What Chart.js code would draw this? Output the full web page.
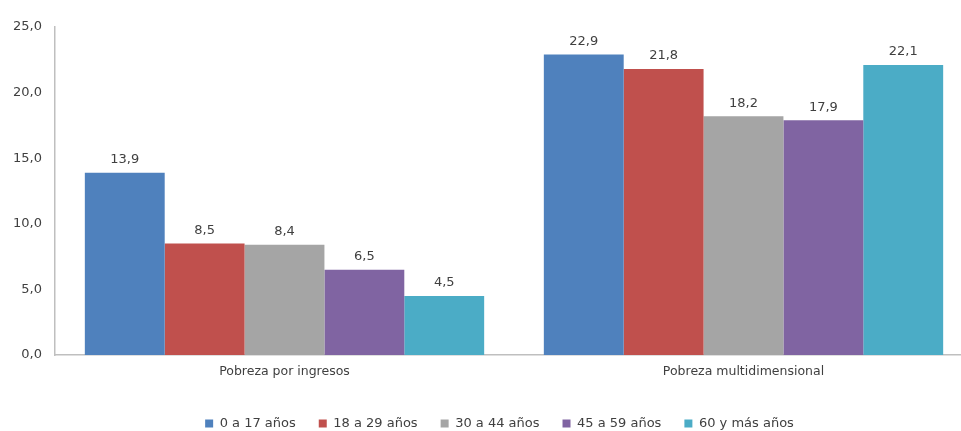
<!DOCTYPE html>
<html>
<head>
<meta charset="utf-8">
<script src="https://cdn.jsdelivr.net/npm/chart.js@4"></script>
<style>
  html, body { margin: 0; padding: 0; overflow: hidden; background: #ffffff; }
  #wrap { width: 975px; height: 431px; }
</style>
</head>
<body>
<div id="wrap"><canvas id="chart" width="975" height="431"></canvas></div>
<script>
// Pobreza por ingresos y multidimensional, por tramo de edad (%)
const categories = ['Pobreza por ingresos', 'Pobreza multidimensional'];
const seriesNames = ['0 a 17 años', '18 a 29 años', '30 a 44 años', '45 a 59 años', '60 y más años'];
const edad0a17 = [13.9, 22.9];
const edad18a29 = [8.5, 21.8];
const edad30a44 = [8.4, 18.2];
const edad45a59 = [6.5, 17.9];
const edad60mas = [4.5, 22.1];
const yTicks = [0, 5, 10, 15, 20, 25];

const colors = ['#4F81BD', '#C0504D', '#A5A5A5', '#8064A2', '#4BACC6'];
const seriesValues = [edad0a17, edad18a29, edad30a44, edad45a59, edad60mas];

const FONT = "'DejaVu Sans', Verdana, sans-serif";
const TEXT = '#404040';
const fmt = v => v.toFixed(1).replace('.', ',');

// Value labels above every bar
const valueLabels = {
  id: 'valueLabels',
  afterDatasetsDraw(chart) {
    const ctx = chart.ctx;
    ctx.save();
    ctx.font = '13px ' + FONT;
    ctx.fillStyle = TEXT;
    ctx.textAlign = 'center';
    ctx.textBaseline = 'middle';
    chart.data.datasets.forEach((ds, i) => {
      chart.getDatasetMeta(i).data.forEach((bar, j) => {
        ctx.fillText(fmt(ds.data[j]), bar.x, bar.y - 13);
      });
    });
    ctx.restore();
  }
};

// Centre the legend row under the visible page width
const legendShift = {
  id: 'legendShift',
  afterLayout(chart) {
    const lg = chart.legend;
    if (!lg) return;
    lg.left += 13; lg.right += 13;
    lg.top += 3; lg.bottom += 3;
  }
};

new Chart(document.getElementById('chart'), {
  type: 'bar',
  data: {
    labels: categories,
    datasets: seriesNames.map((name, i) => ({
      label: name,
      data: seriesValues[i],
      backgroundColor: colors[i],
      borderWidth: 0,
      categoryPercentage: 0.87,
      barPercentage: 1.0
    }))
  },
  options: {
    responsive: false,
    animation: false,
    events: [],
    layout: { padding: { top: 27, left: 0, right: 2, bottom: 0 } },
    scales: {
      x: {
        afterFit(axis) { axis.height = 36; },
        grid: { display: false, drawTicks: false, tickLength: 0 },
        border: { display: true, color: '#BFBFBF', width: 1.5 },
        ticks: { color: TEXT, font: { family: FONT, size: 12.5 }, padding: 9.5, maxRotation: 0 }
      },
      y: {
        min: 0,
        max: 25,
        afterFit(axis) { axis.width = 55; },
        afterBuildTicks(axis) { axis.ticks = yTicks.map(v => ({ value: v })); },
        grid: { display: false, drawTicks: false, tickLength: 0 },
        border: { display: true, color: '#BFBFBF', width: 1.5 },
        ticks: { color: TEXT, font: { family: FONT, size: 13 }, padding: 13, callback: v => fmt(v) }
      }
    },
    plugins: {
      legend: {
        position: 'bottom',
        maxHeight: 40,
        labels: {
          color: TEXT,
          font: { family: FONT, size: 13 },
          boxWidth: 8,
          boxHeight: 8,
          padding: 23
        }
      },
      tooltip: { enabled: false }
    }
  },
  plugins: [valueLabels, legendShift]
});
</script>
</body>
</html>
